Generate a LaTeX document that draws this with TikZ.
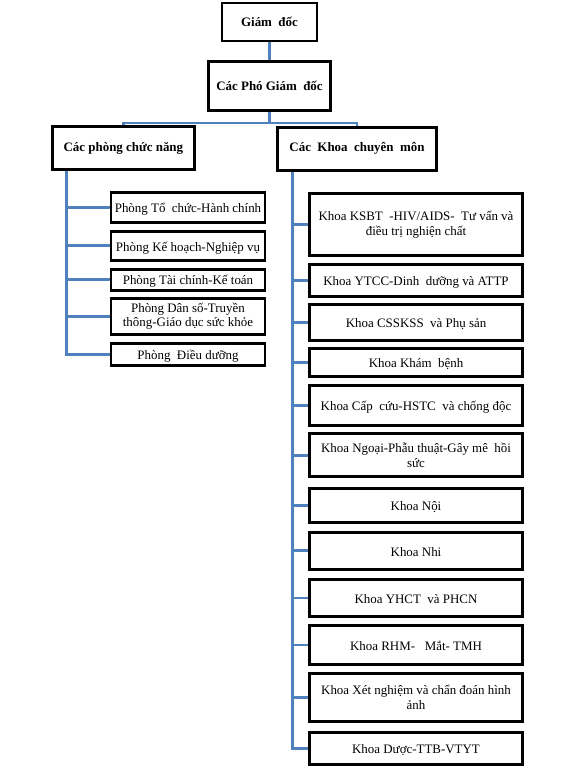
\documentclass[tikz,border=0pt]{standalone}
\usepackage{fontspec}
\setmainfont{Liberation Serif}
\usetikzlibrary{backgrounds}
\definecolor{linkblue}{HTML}{4F81BD}

\begin{document}
\begin{tikzpicture}[x=0.75pt, y=-0.75pt,
        box/.style={draw, line width=2.2pt, fill=white, align=center, inner sep=1pt,
            font=\fontsize{9.7}{11}\selectfont},
        head/.style={box, font=\fontsize{9.7}{11}\selectfont\bfseries},
        oneline/.style={text height=9pt, text depth=1.2pt},
        pbox/.style={box, minimum width=115.5pt},
        kbox/.style={box, minimum width=160.2pt},
        link/.style={draw=linkblue, line width=2.2pt}]
    \useasboundingbox (0,0) rectangle (577,767);

    \node [head, minimum width=71.25pt, minimum height=28.5pt] (gd) at (269.5,22) {Giám\ \ đốc};
    \node [head, minimum width=91.5pt, minimum height=36.75pt] (pho) at (269.5,86) {Các Phó Giám\ \ đốc};
    \node [head, minimum width=106.5pt, minimum height=32.25pt] (phong) at (123.4,148) {Các phòng chức năng};
    \node [head, minimum width=119.25pt, minimum height=32.25pt] (khoa) at (357,148.7) {Các\ \ Khoa\ \ chuyên\ \ môn};

    % cac phong
    \node [pbox, oneline, minimum height=22.7pt] (tochuc) at (188,207.3) {Phòng Tổ\ \ chức-Hành chính};
    \node [pbox, oneline, minimum height=21.5pt] (kehoach) at (188,245.8) {Phòng Kế hoạch-Nghiệp vụ};
    \node [pbox, oneline, minimum height=15.75pt] (taichinh) at (188,279.7) {Phòng Tài chính-Kế toán};
    \node [pbox, minimum height=27.2pt] (danso) at (188,316.3) {Phòng Dân số-Truyền\\thông-Giáo dục sức khỏe};
    \node [pbox, oneline, minimum height=16.5pt] (dieuduong) at (188,354.2) {Phòng\ \ Điều dưỡng};

    % cac khoa
    \node [kbox, minimum height=47pt] (ksbt) at (416,224.5) {Khoa KSBT\ \ -HIV/AIDS-\ \ Tư vấn và\\điều trị nghiện chất};
    \node [kbox, oneline, minimum height=23.5pt] (ytcc) at (416,280.5) {Khoa YTCC-Dinh\ \ dưỡng và ATTP};
    \node [kbox, oneline, minimum height=26.5pt] (cssk) at (416,322.5) {Khoa CSSKSS\ \ và Phụ sản};
    \node [kbox, oneline, minimum height=21.5pt] (kham) at (416,362.5) {Khoa Khám\ \ bệnh};
    \node [kbox, oneline, minimum height=29.5pt] (capcuu) at (416,405.5) {Khoa Cấp\ \ cứu-HSTC\ \ và chống độc};
    \node [kbox, minimum height=32.25pt] (ngoai) at (416,455.3) {Khoa Ngoại-Phẫu thuật-Gây mê\ \ hồi\\sức};
    \node [kbox, oneline, minimum height=26pt] (noi) at (416,505.5) {Khoa Nội};
    \node [kbox, oneline, minimum height=28pt] (nhi) at (416,550.8) {Khoa Nhi};
    \node [kbox, oneline, minimum height=28.2pt] (yhct) at (416,598) {Khoa YHCT\ \ và PHCN};
    \node [kbox, oneline, minimum height=28.8pt] (rhm) at (416,645) {Khoa RHM-\ \ \ Mắt- TMH};
    \node [kbox, minimum height=36.5pt] (xetnghiem) at (416,697.5) {Khoa Xét nghiệm và chẩn đoán hình\\ảnh};
    \node [kbox, oneline, minimum height=24.2pt] (duoc) at (416,748.3) {Khoa Dược-TTB-VTYT};

    \coordinate (bus) at (269.5,123);
    \coordinate (lspine) at (66.5,171);
    \coordinate (rspine) at (292.7,172);

    \begin{scope}[on background layer]
        \draw [link] (gd) -- (pho);
        \draw [link] (pho) -- (bus);
        \draw [link] (phong.north) |- (bus) -| (khoa.north);
        \draw [link] (lspine) |- (dieuduong.west);
        \foreach \n in {tochuc, kehoach, taichinh, danso}
            \draw [link] (lspine |- \n.west) -- (\n.west);
        \draw [link] (rspine) |- (duoc.west);
        \foreach \n in {ksbt, ytcc, cssk, kham, capcuu, ngoai, noi, nhi, yhct, rhm, xetnghiem}
            \draw [link] (rspine |- \n.west) -- (\n.west);
    \end{scope}
\end{tikzpicture}
\end{document}
